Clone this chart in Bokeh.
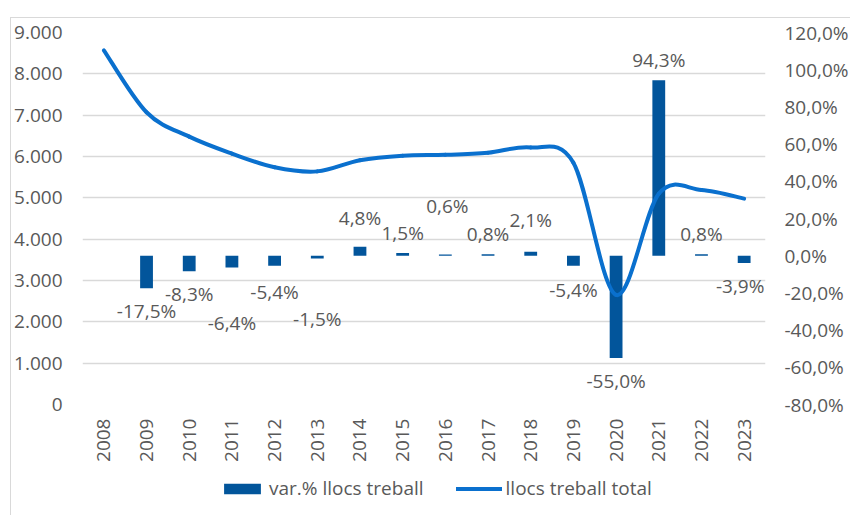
import math
from bokeh.plotting import figure
from bokeh.layouts import column
from bokeh.models import Range1d, LinearAxis, FixedTicker, Legend, LegendItem, ColumnDataSource
from bokeh.core.properties import value
from bokeh.embed import file_html
from bokeh.resources import INLINE

# ---- data ----
years = ["2008", "2009", "2010", "2011", "2012", "2013", "2014", "2015",
         "2016", "2017", "2018", "2019", "2020", "2021", "2022", "2023"]
llocs_total = [8570, 7070, 6480, 6070, 5740, 5640, 5910, 6020,
               6040, 6090, 6220, 5850, 2650, 5100, 5190, 4980]
var_years = years[1:]
var_pct = [-17.5, -8.3, -6.4, -5.4, -1.5, 4.8, 1.5, 0.6,
           0.8, 2.1, -5.4, -55.0, 94.3, 0.8, -3.9]
left_ticks = [0, 1000, 2000, 3000, 4000, 5000, 6000, 7000, 8000, 9000]
left_tick_labels = ["0", "1.000", "2.000", "3.000", "4.000", "5.000", "6.000", "7.000", "8.000", "9.000"]
right_ticks = [-80, -60, -40, -20, 0, 20, 40, 60, 80, 100, 120]
right_tick_labels = ["-80,0%", "-60,0%", "-40,0%", "-20,0%", "0,0%", "20,0%", "40,0%",
                     "60,0%", "80,0%", "100,0%", "120,0%"]
# label offsets (screen px) from bar end: dy positive = down
label_dy = [23, 23, 55, 26, 61, -29, -20, -49, -20, -32, 24, 23, -20, -20, 23]
label_dx = [0, 0, 0, 0, 0, 0, 0, 2, 0, 0, 0, 0, 0, 0, -4]

FONT = "Open Sans"
FS = "19px"
TXT = "#595959"
GRID = "#d9d9d9"
BAR = "#02559B"
LINE = "#0A70CE"
BORDER = "1px solid #d9d9d9"

xi = list(range(len(years)))
var_x = [years.index(y) for y in var_years]

p = figure(width=840, height=452, output_backend="svg", toolbar_location=None,
           x_range=Range1d(-0.5, len(years) - 0.5), y_range=Range1d(0, 9000),
           min_border_left=71, min_border_right=83, min_border_top=14, min_border_bottom=66,
           margin=(17, 0, 0, 10))
p.styles = {"border-left": BORDER, "border-top": BORDER}
p.outline_line_color = None
p.background_fill_color = "white"
p.border_fill_color = "white"
p.extra_y_ranges = {"pct": Range1d(-80, 120)}

# grid
p.xgrid.visible = False
p.ygrid.ticker = FixedTicker(ticks=left_ticks)
p.ygrid.grid_line_color = GRID
p.ygrid.grid_line_width = 1.3


def style_axis(ax, standoff):
    ax.axis_line_color = None
    ax.major_tick_line_color = None
    ax.minor_tick_line_color = None
    ax.major_tick_out = 0
    ax.major_tick_in = 0
    ax.minor_tick_out = 0
    ax.major_label_standoff = standoff
    ax.major_label_text_font = FONT
    ax.major_label_text_font_size = FS
    ax.major_label_text_color = TXT


# left axis
ya = p.yaxis[0]
ya.ticker = FixedTicker(ticks=left_ticks)
ya.major_label_overrides = {t: l for t, l in zip(left_ticks, left_tick_labels)}
style_axis(ya, 20)

# right axis
ra = LinearAxis(y_range_name="pct", ticker=FixedTicker(ticks=right_ticks))
ra.major_label_overrides = {t: l for t, l in zip(right_ticks, right_tick_labels)}
style_axis(ra, 19)
p.add_layout(ra, "right")

# x axis
xa = p.xaxis[0]
xa.ticker = FixedTicker(ticks=xi)
xa.major_label_overrides = {i: y for i, y in enumerate(years)}
xa.major_label_orientation = math.pi / 2
style_axis(xa, 14)

# bars
bars = p.vbar(x=var_x, top=var_pct, bottom=0, width=0.3, y_range_name="pct",
              fill_color=BAR, line_color=None)

# smoothed line (Catmull-Rom style bezier through the data points)
n = len(llocs_total)
x0s, y0s, x1s, y1s, cx0, cy0, cx1, cy1 = [], [], [], [], [], [], [], []
for i in range(n - 1):
    pm = i - 1 if i > 0 else i
    pp = i + 2 if i + 2 < n else i + 1
    x0s.append(xi[i]); y0s.append(llocs_total[i])
    x1s.append(xi[i + 1]); y1s.append(llocs_total[i + 1])
    cx0.append(xi[i] + (xi[i + 1] - xi[pm]) / 6)
    cy0.append(llocs_total[i] + (llocs_total[i + 1] - llocs_total[pm]) / 6)
    cx1.append(xi[i + 1] - (xi[pp] - xi[i]) / 6)
    cy1.append(llocs_total[i + 1] - (llocs_total[pp] - llocs_total[i]) / 6)
p.bezier(x0=x0s, y0=y0s, x1=x1s, y1=y1s, cx0=cx0, cy0=cy0, cx1=cx1, cy1=cy1,
         line_color=LINE, line_width=4, line_cap="round")

# data labels
labels = [f"{v:.1f}%".replace(".", ",") for v in var_pct]
src = ColumnDataSource(dict(x=var_x, y=var_pct, t=labels, dy=label_dy, dx=label_dx))
p.text(x="x", y="y", text="t", x_offset="dx", y_offset="dy", source=src, y_range_name="pct",
       text_align="center", text_baseline="middle", text_font=value(FONT),
       text_font_size=FS, text_color=TXT)

# ---- legend strip (series drawn outside its visible range; only the legend shows) ----
lg = figure(width=840, height=46, output_backend="svg", toolbar_location=None,
            x_axis_type=None, y_axis_type=None,
            x_range=Range1d(-0.5, len(years) - 0.5), y_range=Range1d(20000, 20001),
            min_border_left=0, min_border_right=0, min_border_top=0, min_border_bottom=0,
            margin=(0, 0, 0, 10))
lg.styles = {"border-left": BORDER}
lg.outline_line_color = None
lg.xgrid.visible = False
lg.ygrid.visible = False
leg_bar = lg.vbar(x=var_x, top=var_pct, bottom=0, width=0.3, fill_color=BAR, line_color=None)
leg_line = lg.line(x=xi, y=llocs_total, line_color=LINE, line_width=4, line_cap="round")
legend = Legend(items=[LegendItem(label="var.% llocs treball", renderers=[leg_bar]),
                       LegendItem(label="llocs treball total", renderers=[leg_line])],
                orientation="horizontal", location=(137, 14),
                glyph_width=46, glyph_height=13, label_standoff=4, spacing=32,
                padding=0, margin=0, border_line_color=None, background_fill_alpha=0,
                label_text_font=FONT, label_text_font_size=FS, label_text_color=TXT,
                label_height=20)
lg.add_layout(legend, "center")

layout = column(p, lg, spacing=0)
open("out.html", "w").write(file_html(layout, INLINE))
